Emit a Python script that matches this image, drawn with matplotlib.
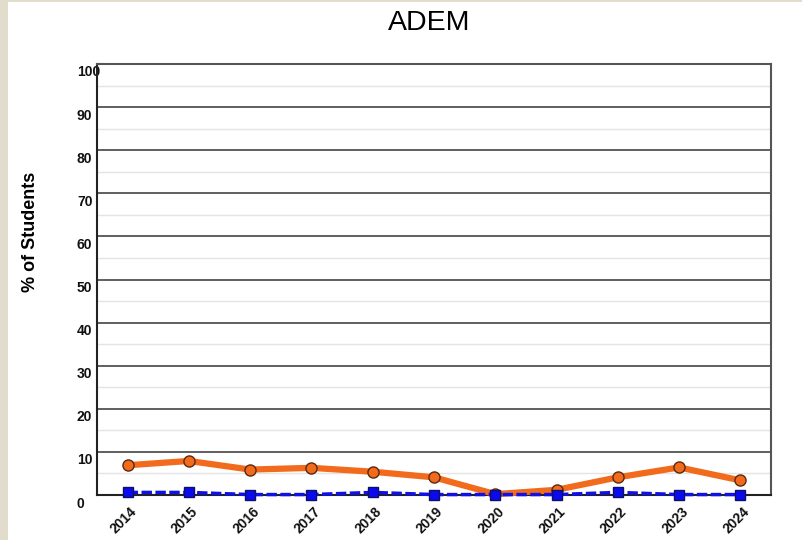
import matplotlib
matplotlib.use('Agg')
import matplotlib.pyplot as plt
import matplotlib.transforms as mtrans
from matplotlib.patches import Rectangle

# 数据
years = ['2014', '2015', '2016', '2017', '2018', '2019', '2020', '2021', '2022', '2023', '2024']
orange_vals = [6.9, 7.9, 5.9, 6.3, 5.4, 4.1, 0.2, 1.2, 4.1, 6.4, 3.4]
blue_vals = [0.6, 0.6, 0.1, 0.1, 0.6, 0.1, 0.1, 0.1, 0.6, 0.1, 0.1]
yticks = [0, 10, 20, 30, 40, 50, 60, 70, 80, 90, 100]

plt.rcParams['font.family'] = ['Liberation Sans', 'DejaVu Sans']

DPI = 100
fig = plt.figure(figsize=(8.03, 5.40), dpi=DPI, facecolor='#e2dccc')
# 白色底板，放在坐标轴下面
fig.patches.append(Rectangle((8 / 803, 0), 1, 1 - 2 / 540, transform=fig.transFigure,
                             facecolor='white', edgecolor='none', zorder=-5))

W, H = 803, 540
left, right, top, bottom = 97, 771, 64, 495
ax = fig.add_axes([left / W, 1 - bottom / H, (right - left) / W, (bottom - top) / H])
ax.set_facecolor('white')

x = list(range(len(years)))
ax.plot(x, orange_vals, color='#f26a1b', lw=4.5, marker='o', ms=8,
        mfc='#f26a1b', mec='#5a2a10', mew=1, zorder=4, clip_on=False)
ax.plot(x, blue_vals, color='#1010e8', lw=2.5, ls='--', dashes=(3, 1), marker='s', ms=7,
        mfc='#0a0af0', mec='#101060', mew=1, zorder=5, clip_on=False)

ax.set_xlim(-0.5, len(years) - 0.5)
ax.set_ylim(0, 100)
ax.set_yticks(yticks)
ax.set_yticks(range(5, 100, 10), minor=True)
ax.grid(axis='y', which='major', color='#444444', lw=1.2, zorder=1)
ax.grid(axis='y', which='minor', color='#e4e4e4', lw=1, zorder=1)
ax.set_axisbelow(True)
ax.tick_params(axis='y', which='both', length=0, pad=14.4)
ax.tick_params(axis='x', length=0, pad=7)
ax.set_yticklabels([str(v) for v in yticks], fontsize=10, fontweight='bold',
                   color='#111111', ha='left')
# y轴标签向下偏移一点
dy = mtrans.ScaledTranslation(0, -7 / DPI, fig.dpi_scale_trans)
for lab in ax.get_yticklabels():
    lab.set_transform(lab.get_transform() + dy)

ax.set_xticks(x)
ax.set_xticklabels(years, rotation=45, ha='right', va='top', rotation_mode='anchor',
                   fontsize=10, fontweight='bold', color='#111111')
dx = mtrans.ScaledTranslation(2 / DPI, 0, fig.dpi_scale_trans)
for lab in ax.get_xticklabels():
    lab.set_transform(lab.get_transform() + dx)

for side in ['left', 'bottom']:
    ax.spines[side].set_color('#222222')
    ax.spines[side].set_linewidth(1.5)
for side in ['top', 'right']:
    ax.spines[side].set_color('#555555')
    ax.spines[side].set_linewidth(1.5)

fig.text(31 / W, 1 - 232 / H, '% of Students', fontsize=13, fontweight='bold',
         rotation=90, ha='center', va='center')
fig.text(429 / W, 1 - 23 / H, 'ADEM', fontsize=20.5, ha='center', va='center')

fig.savefig('out.png', dpi=DPI, facecolor=fig.get_facecolor())
